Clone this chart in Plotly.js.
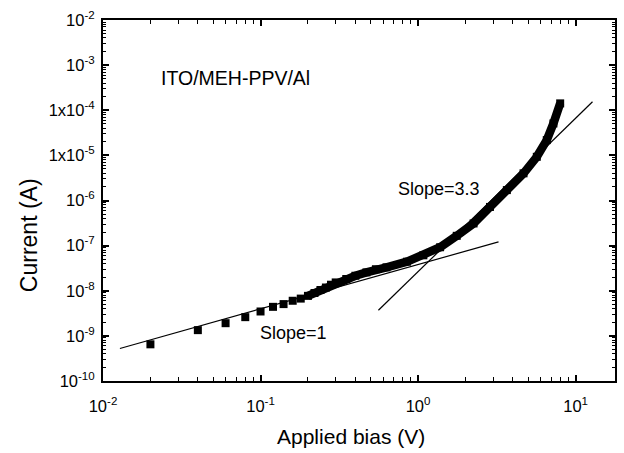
<!DOCTYPE html>
<html>
<head>
<meta charset="utf-8">
<script src="https://cdn.plot.ly/plotly-3.0.1.min.js"></script>
<style>html,body{margin:0;padding:0;background:#fff;}#chart{width:624px;height:453px;}</style>
</head>
<body>
<div id="chart"></div>
<script>
// Measured points (V, A) — sparse low-bias squares
var sparseV = [0.02, 0.04, 0.06, 0.08, 0.10, 0.12, 0.14, 0.16, 0.18];
var sparseI = [6.5e-10, 1.34e-9, 1.91e-9, 2.6e-9, 3.47e-9, 4.4e-9, 5.06e-9, 6.0e-9, 6.7e-9];
// Dense part of the measurement (read along the thick band)
var denseV = [0.20, 0.22, 0.24, 0.26, 0.28, 0.30, 0.35, 0.40, 0.47, 0.54, 0.63, 0.85, 1.08, 1.38, 1.76, 2.25, 2.86, 3.66, 4.67, 5.67, 6.56, 7.23, 7.98];
var denseI = [7.7e-9, 8.9e-9, 1.04e-8, 1.18e-8, 1.36e-8, 1.53e-8, 1.82e-8, 2.15e-8, 2.55e-8, 3.0e-8, 3.3e-8, 4.4e-8, 6.1e-8, 9.2e-8, 1.65e-7, 3.1e-7, 7.2e-7, 1.7e-6, 4.0e-6, 9.3e-6, 2.18e-5, 5.1e-5, 1.42e-4];
// Fit lines
var fit1V = [0.0128, 3.24];
var fit1I = [5.25e-10, 1.21e-7];
var fit33V = [0.56, 12.8];
var fit33I = [3.7e-9, 1.54e-4];
// Tick labels
var xTickVals = [0.01, 0.1, 1, 10];
var xTickText = ['10<sup>-2</sup>', '10<sup>-1</sup>', '10<sup>0</sup>', '10<sup>1</sup>'];
var yTickVals = [1e-2, 1e-3, 1e-4, 1e-5, 1e-6, 1e-7, 1e-8, 1e-9, 1e-10];
var yTickText = ['10<sup>-2</sup>', '10<sup>-3</sup>', '1x10<sup>-4</sup>', '1x10<sup>-5</sup>', '10<sup>-6</sup>', '10<sup>-7</sup>', '10<sup>-8</sup>', '10<sup>-9</sup>', '10<sup>-10</sup>'];

function minorVals(lo, hi) {
  var out = [];
  for (var e = lo; e < hi; e++) for (var m = 2; m <= 9; m++) out.push(m * Math.pow(10, e));
  return out;
}

var FONT = 'Liberation Sans, Arial, Helvetica, sans-serif';

var traces = [
  {x: fit1V, y: fit1I, mode: 'lines', line: {color: 'black', width: 1.2}, hoverinfo: 'skip'},
  {x: fit33V, y: fit33I, mode: 'lines', line: {color: 'black', width: 1.2}, hoverinfo: 'skip'},
  {x: sparseV, y: sparseI, mode: 'markers', marker: {symbol: 'square', size: 8, color: 'black'}},
  {x: denseV, y: denseI, mode: 'lines+markers', line: {color: 'black', width: 8.5}, marker: {symbol: 'square', size: 8, color: 'black'}}
];

function axisBase() {
  return {
    type: 'log', showgrid: false, zeroline: false,
    showline: true, linecolor: 'black', linewidth: 2, mirror: 'ticks',
    ticks: 'inside', ticklen: 6, tickwidth: 2, tickcolor: 'black',
    tickmode: 'array',
    tickfont: {family: FONT, size: 16.5, color: 'black'}
  };
}

var xa = axisBase();
xa.range = [-2, 1.25];
xa.tickvals = xTickVals; xa.ticktext = xTickText;
xa.ticklabelstandoff = 9;
xa.minor = {tickmode: 'array', tickvals: minorVals(-2, 2), ticks: 'inside', ticklen: 4, tickwidth: 1, tickcolor: 'black', showgrid: false};

var ya = axisBase();
ya.range = [-10, -2];
ya.tickvals = yTickVals; ya.ticktext = yTickText;
ya.ticklabelstandoff = 3;
ya.minor = {tickmode: 'array', tickvals: minorVals(-10, -2), ticks: 'inside', ticklen: 3, tickwidth: 1, tickcolor: 'black', showgrid: false};

function note(text, x, y, size, angle) {
  return {text: text, xref: 'paper', yref: 'paper', x: x, y: y, xanchor: 'center', yanchor: 'middle',
          textangle: angle || 0, showarrow: false, font: {family: FONT, size: size, color: 'black'}};
}

var layout = {
  width: 624, height: 453,
  margin: {l: 103, r: 9, t: 20, b: 72},
  paper_bgcolor: 'white', plot_bgcolor: 'white',
  showlegend: false,
  font: {family: FONT, color: 'black'},
  xaxis: xa, yaxis: ya,
  annotations: [
    note('ITO/MEH-PPV/Al', 0.259, 0.839, 19.5),
    note('Slope=3.3', 0.656, 0.532, 18),
    note('Slope=1', 0.372, 0.133, 18),
    note('Current (A)', -0.1445, 0.404, 23, -90),
    note('Applied bias (V)', 0.484, -0.155, 21)
  ]
};

Plotly.newPlot('chart', traces, layout, {staticPlot: true, displayModeBar: false});
</script>
</body>
</html>
